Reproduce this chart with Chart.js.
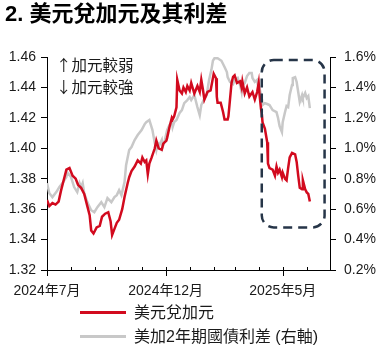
<!DOCTYPE html>
<html><head><meta charset="utf-8">
<script src="https://cdn.jsdelivr.net/npm/chart.js@4.4.1/dist/chart.umd.min.js"></script>
<style>
html,body{margin:0;padding:0;background:#fff;}
#wrap{position:relative;width:382px;height:348px;overflow:hidden;font-family:"Liberation Sans",Arial,"Noto Sans CJK TC",sans-serif;color:#1a1a1a;}
#c{position:absolute;left:0;top:0;}
.title{position:absolute;left:5px;top:2px;font-size:22px;font-weight:bold;line-height:24px;white-space:nowrap;color:#000;}
.note{position:absolute;left:56px;font-size:15.5px;line-height:18px;white-space:nowrap;font-family:"Noto Sans CJK TC",sans-serif;}
.leg{position:absolute;left:80px;height:18px;font-size:16px;line-height:18px;white-space:nowrap;}
.leg i{display:inline-block;width:46px;height:3px;vertical-align:middle;margin-right:8px;position:relative;top:-1px;}
</style></head>
<body>
<div id="wrap">
<canvas id="c" width="382" height="348"></canvas>
<div class="title">2. 美元兌加元及其利差</div>
<div class="note" style="top:55px">↑加元較弱</div>
<div class="note" style="top:77px">↓加元較強</div>
<div class="leg" style="top:304px"><i style="background:#d20a1e"></i>美元兌加元</div>
<div class="leg" style="top:328px"><i style="background:#c8c8c8"></i>美加2年期國債利差 (右軸)</div>
</div>
<script>
// days since 2024-07-01
const usdcadDays = [0,3,7,11,15,18,22,25,29,33,37,40,44,48,52,55,57,60,64,68,71,75,79,82,84,87,90,93,97,100,104,106,109,113,117,121,123,126,128,130,132,135,139,141,144,148,150,154,155,158,161,162,164,167,168,171,174,176,179,181,184,186,190,194,197,199,201,203,207,211,215,218,219,220,224,227,229,233,234,236,238,240,242,245,249,251,252,255,258,261,265,268,271,273,274,276,277,278,281,284,285,287,291,294,296,298,300,303,304,307,309,311,313,316,317,320,322,324,326,329,330,333,335,337,339];
const usdcadValues = [1.366,1.362,1.364,1.363,1.365,1.372,1.380,1.386,1.387,1.382,1.380,1.376,1.374,1.370,1.362,1.356,1.346,1.344,1.348,1.349,1.355,1.357,1.358,1.352,1.343,1.347,1.351,1.353,1.360,1.368,1.377,1.381,1.385,1.388,1.392,1.390,1.394,1.391,1.392,1.383,1.390,1.394,1.400,1.405,1.400,1.399,1.403,1.405,1.407,1.414,1.420,1.419,1.421,1.427,1.445,1.438,1.436,1.440,1.437,1.441,1.438,1.443,1.436,1.441,1.437,1.445,1.439,1.432,1.437,1.438,1.449,1.446,1.434,1.430,1.430,1.424,1.419,1.419,1.421,1.432,1.443,1.447,1.448,1.443,1.444,1.440,1.444,1.436,1.440,1.434,1.437,1.432,1.437,1.443,1.436,1.426,1.423,1.417,1.413,1.404,1.390,1.387,1.386,1.382,1.388,1.384,1.386,1.381,1.384,1.380,1.379,1.387,1.394,1.397,1.397,1.396,1.391,1.382,1.374,1.373,1.379,1.373,1.371,1.370,1.365];
const spreadDays = [0,3,7,12,16,20,25,26,31,35,39,42,44,46,48,52,57,61,65,70,74,78,83,87,90,93,96,100,102,106,109,113,117,122,126,128,132,136,139,141,143,145,148,149,152,155,158,161,162,164,167,171,174,177,181,184,186,190,194,197,199,202,206,209,212,214,216,220,225,229,232,233,236,240,242,246,249,251,252,255,258,261,264,265,268,271,272,274,277,278,281,284,287,291,296,298,300,303,304,307,309,311,313,316,317,320,322,324,326,329,330,333,335,337,339];
const spreadValues = [0.771,0.705,0.679,0.712,0.745,0.771,0.811,0.843,0.811,0.745,0.712,0.771,0.745,0.771,0.705,0.646,0.593,0.580,0.613,0.646,0.613,0.672,0.646,0.679,0.692,0.725,0.692,0.778,0.889,0.988,1.008,1.054,1.087,1.120,1.159,1.172,1.186,1.120,1.034,0.988,1.034,1.021,1.054,1.008,1.054,1.120,1.153,1.172,1.139,1.172,1.186,1.232,1.251,1.297,1.317,1.337,1.317,1.350,1.271,1.218,1.284,1.317,1.350,1.449,1.514,1.575,1.592,1.592,1.575,1.534,1.501,1.468,1.436,1.422,1.449,1.462,1.416,1.370,1.416,1.429,1.475,1.495,1.495,1.462,1.436,1.449,1.416,1.396,1.330,1.284,1.297,1.291,1.284,1.251,1.238,1.199,1.146,1.107,1.172,1.238,1.278,1.271,1.350,1.416,1.462,1.468,1.436,1.370,1.304,1.350,1.330,1.363,1.330,1.343,1.264];
const monthTickDays = [0,31,62,92,123,153,184,215,243,274,304,335,365];
const monthTickLabels = ['2024年7月','','','','','2024年12月','','','','','2025年5月','',''];
const leftTicks = {min:1.32, max:1.46, step:0.02};
const rightTicks = {min:0.2, max:1.6, step:0.2};
const highlightBox = {xMin:277, xMax:358, yMin:1.348, yMax:1.458};

const FONT = '"Liberation Sans", Arial, "Noto Sans CJK TC", sans-serif';
Chart.defaults.font.family = FONT;
Chart.defaults.font.size = 14;
Chart.defaults.color = '#1a1a1a';

const toXY = (xs, ys) => xs.map((d, i) => ({x: d, y: ys[i]}));

const extras = {
  id: 'extras',
  afterDraw(chart) {
    const {ctx, chartArea: a, scales: {x, y}} = chart;
    ctx.save();
    ctx.strokeStyle = '#000';
    ctx.lineWidth = 1;
    monthTickDays.forEach((d, i) => {
      const px = Math.round(x.getPixelForValue(d)) + 0.5;
      const major = monthTickLabels[i] !== '';
      ctx.beginPath();
      ctx.moveTo(px, a.bottom - 3);
      ctx.lineTo(px, a.bottom + (major ? 6 : 0));
      ctx.stroke();
    });
    const x0 = x.getPixelForValue(highlightBox.xMin), x1 = x.getPixelForValue(highlightBox.xMax);
    const y0 = y.getPixelForValue(highlightBox.yMax), y1 = y.getPixelForValue(highlightBox.yMin);
    ctx.strokeStyle = '#263548';
    ctx.lineWidth = 2.5;
    ctx.setLineDash([9, 6]);
    ctx.beginPath();
    ctx.roundRect(x0, y0, x1 - x0, y1 - y0, 12);
    ctx.stroke();
    ctx.restore();
  }
};

new Chart(document.getElementById('c'), {
  type: 'line',
  data: {
    datasets: [
      {label: '美元兌加元', data: toXY(usdcadDays, usdcadValues), borderColor: '#d20a1e', borderWidth: 2.5, pointRadius: 0, yAxisID: 'y', tension: 0},
      {label: '美加2年期國債利差 (右軸)', data: toXY(spreadDays, spreadValues), borderColor: '#c8c8c8', borderWidth: 2.5, pointRadius: 0, yAxisID: 'y1', tension: 0}
    ]
  },
  options: {
    responsive: false,
    animation: false,
    devicePixelRatio: 1,
    layout: {padding: {top: 57, left: 0, right: 0, bottom: 0}},
    plugins: {legend: {display: false}, tooltip: {enabled: false}, title: {display: false}},
    scales: {
      x: {
        type: 'linear', min: 0, max: 365,
        afterBuildTicks: s => { s.ticks = monthTickDays.map(v => ({value: v})); },
        afterFit: s => { s.height = 78; },
        grid: {display: false, drawTicks: false},
        border: {display: true, color: '#000', width: 1},
        ticks: {autoSkip: false, maxRotation: 0, padding: 13, font: {size: 14},
          callback: (v, i) => monthTickLabels[i]}
      },
      y: {
        position: 'left', min: leftTicks.min, max: leftTicks.max,
        afterFit: s => { s.width = 47; },
        grid: {drawOnChartArea: false, drawTicks: true, tickLength: 6, color: '#000'},
        border: {display: true, color: '#000', width: 1},
        ticks: {stepSize: leftTicks.step, padding: 5, font: {size: 14}, callback: v => v.toFixed(2)}
      },
      y1: {
        position: 'right', min: rightTicks.min, max: rightTicks.max,
        afterFit: s => { s.width = 52; },
        grid: {drawOnChartArea: false, drawTicks: true, tickLength: 6, color: '#000'},
        border: {display: true, color: '#000', width: 1},
        ticks: {stepSize: rightTicks.step, padding: 8, font: {size: 14}, callback: v => v.toFixed(1) + '%'}
      }
    }
  },
  plugins: [extras]
});
</script>
</body></html>
